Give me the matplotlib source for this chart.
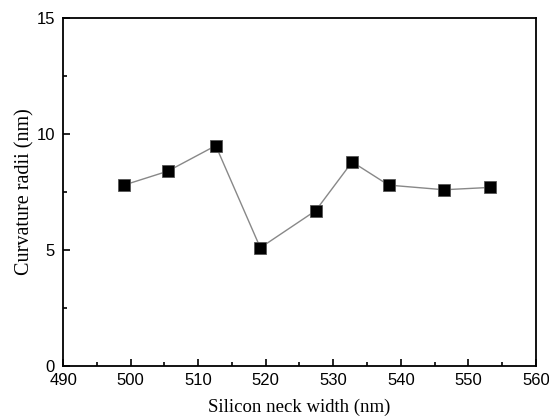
import matplotlib.pyplot as plt
from matplotlib.ticker import MultipleLocator

neck_width = [499.0, 505.5, 512.6, 519.2, 527.4, 532.8, 538.2, 546.4, 553.2]
radii = [7.8, 8.4, 9.5, 5.1, 6.7, 8.8, 7.8, 7.6, 7.7]

fig, ax = plt.subplots(figsize=(5.49, 4.18), dpi=100)
fig.subplots_adjust(left=0.115, right=0.976, top=0.957, bottom=0.124)

ax.plot(neck_width, radii, color='#888888', lw=1.0, marker='s', ms=8,
        mfc='black', mec='#555555', mew=0.6)

ax.set_xlim(490, 560)
ax.set_ylim(0, 15)
ax.xaxis.set_major_locator(MultipleLocator(10))
ax.xaxis.set_minor_locator(MultipleLocator(5))
ax.yaxis.set_major_locator(MultipleLocator(5))
ax.yaxis.set_minor_locator(MultipleLocator(2.5))
ax.tick_params(which='both', direction='in', width=1.2, labelsize=12)
ax.tick_params(which='major', length=5)
ax.tick_params(which='minor', length=3)
ax.tick_params(axis='x', pad=5)
ax.tick_params(axis='y', pad=6)
for lab in ax.get_xticklabels() + ax.get_yticklabels():
    lab.set_fontfamily('Liberation Sans')
for sp in ax.spines.values():
    sp.set_linewidth(1.3)

ax.set_xlabel('Silicon neck width (nm)', family='Liberation Serif', fontsize=13.5, labelpad=7.5)
ax.set_ylabel('Curvature radii (nm)', family='Liberation Serif', fontsize=14.5, labelpad=1)

fig.savefig('out.png')
